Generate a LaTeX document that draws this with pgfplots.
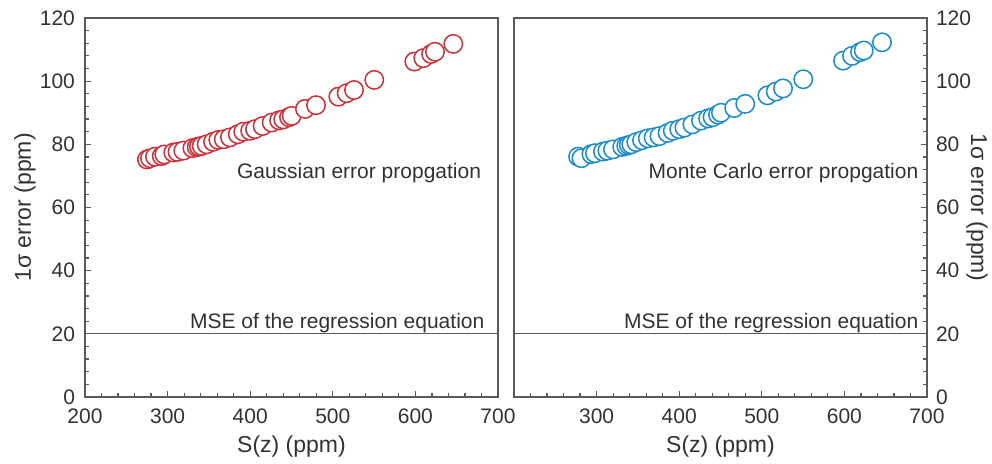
\documentclass[border=0pt]{standalone}
\usepackage{fontspec}
\setmainfont{Liberation Sans}
\usepackage{pgfplots}
\pgfplotsset{compat=1.18}
\definecolor{gred}{RGB}{204,48,58}
\definecolor{mblue}{RGB}{28,140,200}
\definecolor{txt}{RGB}{50,50,50}
\definecolor{axc}{RGB}{90,90,90}
\pgfplotsset{
  panel/.style={
    scale only axis, width=206.5pt, height=189.5pt,
    xmin=200, xmax=700, ymin=0, ymax=120,
    xtick={200,300,...,700}, ytick={0,20,...,120},
    minor x tick num=4, minor y tick num=4,
    tick align=inside, major tick length=3pt, minor tick length=2pt,
    axis line style={axc, line width=0.7pt},
    every tick/.style={axc, line width=0.6pt},
    xtick pos=lower,
    tick label style={font=\fontsize{10.5}{12}\selectfont, text=txt},
    xticklabel style={yshift=-2.5pt},
    label style={font=\fontsize{11.5}{13}\selectfont, text=txt},
    /pgf/number format/assume math mode=true,
    xlabel={S(z) (ppm)},
    xlabel style={at={(rel axis cs:0.5,0)}, anchor=north, yshift=-16pt},
    clip=false,
  },
}
\begin{document}
\begin{tikzpicture}
\useasboundingbox (0,0) rectangle (496pt,232pt);
\begin{axis}[panel, at={(42.5pt,33.5pt)}, anchor=south west,
  ytick pos=left,
  yticklabel style={xshift=-1.5pt}]
\addplot[axc, line width=0.6pt] coordinates {(200,20) (700,20)};
\addplot[only marks, mark=*, mark size=4.6pt, mark options={draw=gred, fill=white, line width=0.75pt}] coordinates {
(275,75.2) (278.7,75.6) (284.7,76.1) (292.9,76.3) (296,76.8) (306.9,77.4) (312,77.6) (319,78.0)
(330,78.8) (335.2,79.1) (338,79.3) (341.3,79.5) (347.3,80.0) (355,80.8) (361.4,81.4) (368,81.6)
(375.5,82.2) (385,83.2) (391.6,84.0) (400,84.3) (405.8,84.8) (415,85.8) (426,86.9) (435,87.6)
(440,87.9) (447,88.6) (450.2,89.0) (466.3,91.2) (479.7,92.4) (506.7,95.1) (516.8,96.2) (525.7,97.2)
(550.2,100.4) (598.7,106.2) (609.6,107.3) (619,108.6) (623.7,109.3) (645.9,111.8)
};
\node[anchor=east, text=txt, font=\fontsize{10.5}{12}\selectfont] at (axis cs:688,71.0) {Gaussian error propgation};
\node[anchor=east, text=txt, font=\fontsize{10.5}{12}\selectfont] at (axis cs:692,23.3) {MSE of the regression equation};
\node[rotate=90, text=txt, font=\fontsize{11.5}{13}\selectfont] at ([xshift=-30pt]rel axis cs:0,0.5) {1σ error (ppm)};
\end{axis}
\begin{axis}[panel, at={(257pt,33.5pt)}, anchor=south west,
  ytick pos=right, yticklabel pos=right,
  xticklabels={,300,400,500,600,700},
  yticklabel style={xshift=1pt}]
\addplot[axc, line width=0.6pt] coordinates {(200,20) (700,20)};
\addplot[only marks, mark=*, mark size=4.6pt, mark options={draw=mblue, fill=white, line width=0.75pt}] coordinates {
(277.6,76.1) (281.6,75.6) (293.7,76.9) (298,77.2) (307.7,77.7) (313,78.0) (319.8,78.4)
(331,79.2) (335.9,79.5) (339,79.8) (342,80.0) (348,80.7) (355,81.3) (362,81.9) (369,82.2)
(376.1,82.6) (386,83.6) (392.2,84.3) (400,84.8) (406.3,85.3) (416,86.3) (426.4,87.5) (435,88.2)
(440.4,88.6) (447,89.4) (450.5,90.0) (466.6,91.5) (479.9,92.8) (506.8,95.5) (516.9,96.7) (525.7,97.7)
(550.2,100.6) (598.4,106.5) (609.3,108.0) (619,109.2) (623.4,109.7) (645.5,112.3)
};
\node[anchor=east, text=txt, font=\fontsize{10.5}{12}\selectfont] at (axis cs:698,71.0) {Monte Carlo error propgation};
\node[anchor=east, text=txt, font=\fontsize{10.5}{12}\selectfont] at (axis cs:698,23.3) {MSE of the regression equation};
\node[rotate=-90, text=txt, font=\fontsize{11.5}{13}\selectfont] at ([xshift=25pt]rel axis cs:1,0.5) {1σ error (ppm)};
\end{axis}
\end{tikzpicture}
\end{document}
